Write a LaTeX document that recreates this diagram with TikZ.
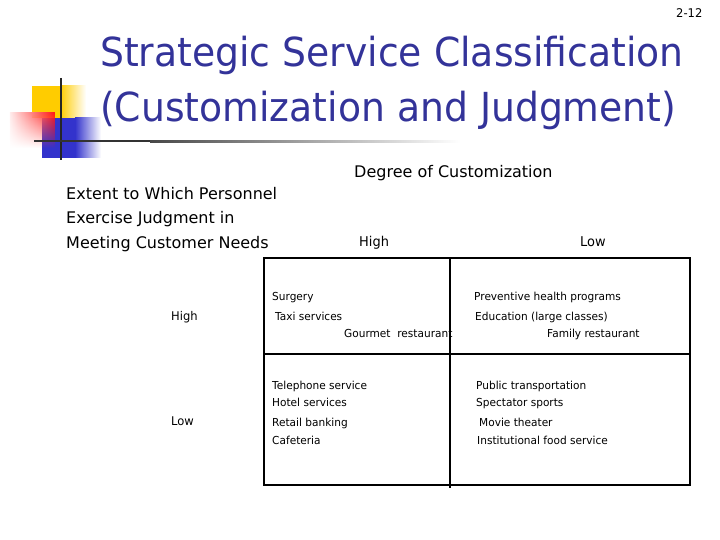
\documentclass[tikz,border=0pt]{standalone}
\usepackage{fontspec}
\setmainfont{DejaVu Sans}[FakeStretch=0.96]
\newfontfamily\titlefont{DejaVu Sans}[FakeStretch=0.943]
\newfontfamily\midfont{DejaVu Sans}
\usetikzlibrary{fadings}
\definecolor{titleblue}{RGB}{51,51,153}
\definecolor{logoyellow}{RGB}{255,204,0}
\definecolor{logoblue}{RGB}{51,51,204}
\definecolor{logored}{RGB}{255,20,20}
\begin{document}
\begin{tikzpicture}[x=1pt,y=-1pt,
  title/.style={font=\titlefont\fontsize{40}{44}\selectfont, text=titleblue, anchor=base west, inner sep=0},
  mid/.style={font=\midfont\fontsize{16}{18}\selectfont, anchor=base west, inner sep=0},
  small/.style={font=\fontsize{11}{12}\selectfont, anchor=base west, inner sep=0},
  gridline/.style={line width=2.5pt}]
\useasboundingbox (0,0) rectangle (720,540);
% page number
\node[small, font=\fontsize{12}{13}\selectfont] (pg) at (676,18) {2-12};
% logo
\fill[logoyellow] (32,86) rectangle (60,118);
\shade[left color=logoyellow, right color=white] (60,86) rectangle (86,118);
\fill[logoblue] (42,118) rectangle (75,158);
\shade[left color=logoblue, right color=white] (75,118) rectangle (101,158);
\shade[left color=red!8, right color=logored, path fading=south] (10,113) rectangle (55,148);
\draw[line width=2pt, black!85] (61,78) -- (61,160);
\draw[line width=2pt, black!80] (34,141.5) -- (150,141.5);
\shade[left color=black!72, right color=white] (150,140.5) rectangle (460,142.5);
% title
\node[title] (t1) at (100,67) {Strategic Service Classification};
\node[title] (t2) at (100,122) {(Customization and Judgment)};
% headers
\node[mid] (deg) at (354,178) {Degree of Customization};
\node[mid] (e1) at (66,200) {Extent to Which Personnel};
\node[mid] (e2) at (66,224) {Exercise Judgment in};
\node[mid] (e3) at (66,248) {Meeting Customer Needs};
\node[small, font=\fontsize{13.5}{14}\selectfont] (chigh) at (359,247) {High};
\node[small, font=\fontsize{13.5}{14}\selectfont] (clow) at (580,247) {Low};
\node[small, font=\fontsize{12}{13}\selectfont] (rhigh) at (171,320) {High};
\node[small, font=\fontsize{12}{13}\selectfont] (rlow) at (171,425) {Low};
% grid
\coordinate (tl) at (264,258);
\coordinate (br) at (690,485);
\coordinate (vt) at (450,258);
\coordinate (vb) at (450,488);
\coordinate (hl) at (264,354);
\coordinate (hr) at (690,354);
\draw[gridline] (tl) rectangle (br);
\draw[gridline] (vt) -- (vb);
\draw[gridline] (hl) -- (hr);
% cells
\node[small] (a1) at (272,300) {Surgery};
\node[small] (a2) at (275,320) {Taxi services};
\node[small] (a3) at (344,337) {Gourmet\ \ restaurant};
\node[small] (b1) at (474,300) {Preventive health programs};
\node[small] (b2) at (475,320) {Education (large classes)};
\node[small] (b3) at (547,337) {Family restaurant};
\node[small] (c1) at (272,389) {Telephone service};
\node[small] (c2) at (272,406) {Hotel services};
\node[small] (c3) at (272,426) {Retail banking};
\node[small] (c4) at (272,444) {Cafeteria};
\node[small] (d1) at (476,389) {Public transportation};
\node[small] (d2) at (476,406) {Spectator sports};
\node[small] (d3) at (479,426) {Movie theater};
\node[small] (d4) at (477,444) {Institutional food service};
\end{tikzpicture}
\end{document}
